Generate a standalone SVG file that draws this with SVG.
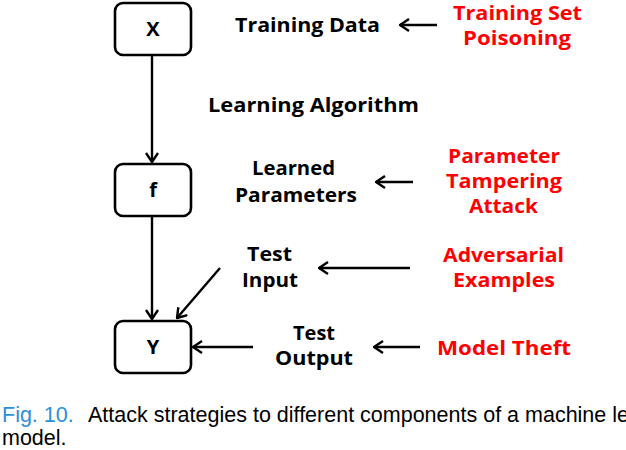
<svg xmlns="http://www.w3.org/2000/svg" width="626" height="450" viewBox="0 0 626 450">
<style>
.box{fill:#fff;stroke:#000;stroke-width:2.6}
.lbl{font-family:"Open Sans","Noto Sans","DejaVu Sans",sans-serif;font-weight:bold;font-size:20px;text-anchor:middle;fill:#000}
.red{fill:#f00}
.con{stroke:#000;stroke-width:2.4;fill:none;marker-end:url(#ah)}
.cap{font-family:"Liberation Sans",Arial,sans-serif;font-size:21.5px;fill:#000}
</style>
<defs>
<marker id="ah" markerUnits="userSpaceOnUse" viewBox="0 0 12 14" refX="11" refY="7" markerWidth="12" markerHeight="14" orient="auto">
<path d="M2,1 L11,7 L2,13" fill="none" stroke="#000" stroke-width="2.4"/>
</marker>
</defs>
<g id="nodeX"><rect class="box" x="115" y="3" width="76" height="52" rx="8"/><text class="lbl" x="153" y="36">X</text></g>
<g id="nodeF"><rect class="box" x="115" y="164" width="76" height="52" rx="8"/><text class="lbl" x="153" y="197">f</text></g>
<g id="nodeY"><rect class="box" x="115" y="321" width="76" height="52" rx="8"/><text class="lbl" x="153" y="354">Y</text></g>
<g id="labels">
<text class="lbl" x="307.5" y="32" textLength="145" lengthAdjust="spacingAndGlyphs">Training Data</text>
<text class="lbl" x="313.5" y="112" textLength="211" lengthAdjust="spacingAndGlyphs">Learning Algorithm</text>
<text class="lbl" x="293.5" y="175" textLength="83" lengthAdjust="spacingAndGlyphs">Learned</text>
<text class="lbl" x="296" y="202" textLength="122" lengthAdjust="spacingAndGlyphs">Parameters</text>
<text class="lbl" x="269.5" y="261" textLength="45" lengthAdjust="spacingAndGlyphs">Test</text>
<text class="lbl" x="270" y="287" textLength="56" lengthAdjust="spacingAndGlyphs">Input</text>
<text class="lbl" x="314" y="340" textLength="42" lengthAdjust="spacingAndGlyphs">Test</text>
<text class="lbl" x="314" y="365" textLength="78" lengthAdjust="spacingAndGlyphs">Output</text>
</g>
<g id="attacks">
<text class="lbl red" x="517.5" y="20" textLength="129" lengthAdjust="spacingAndGlyphs">Training Set</text>
<text class="lbl red" x="517" y="45" textLength="108" lengthAdjust="spacingAndGlyphs">Poisoning</text>
<text class="lbl red" x="504" y="163" textLength="112" lengthAdjust="spacingAndGlyphs">Parameter</text>
<text class="lbl red" x="504" y="188" textLength="116" lengthAdjust="spacingAndGlyphs">Tampering</text>
<text class="lbl red" x="503.5" y="213" textLength="69" lengthAdjust="spacingAndGlyphs">Attack</text>
<text class="lbl red" x="503.5" y="262" textLength="121" lengthAdjust="spacingAndGlyphs">Adversarial</text>
<text class="lbl red" x="504" y="287" textLength="102" lengthAdjust="spacingAndGlyphs">Examples</text>
<text class="lbl red" x="504" y="355" textLength="134" lengthAdjust="spacingAndGlyphs">Model Theft</text>
</g>
<g id="connectors">
<line class="con" x1="152" y1="56" x2="152" y2="162"/>
<line class="con" x1="152" y1="217" x2="152" y2="319"/>
<line class="con" x1="220" y1="268" x2="177" y2="318"/>
<line class="con" x1="253" y1="347" x2="193" y2="347"/>
<line class="con" x1="437" y1="25" x2="400" y2="25"/>
<line class="con" x1="413" y1="182" x2="376" y2="182"/>
<line class="con" x1="410" y1="268" x2="319" y2="268"/>
<line class="con" x1="420" y1="347" x2="374" y2="347"/>
</g>
<g id="caption">
<text class="cap" x="2" y="422"><tspan fill="#2b8fd9">Fig. 10.</tspan><tspan x="88">Attack strategies to different components of a machine learning</tspan></text>
<text class="cap" x="2" y="445">model.</text>
</g>
</svg>
